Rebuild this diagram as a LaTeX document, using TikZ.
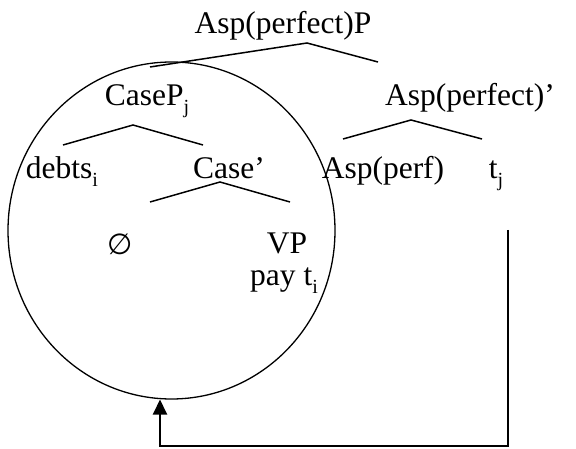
\documentclass[tikz,border=0pt]{standalone}
\usepackage{fontspec}
\setmainfont{Liberation Serif}
\newfontfamily\symfont{DejaVu Sans}
\usetikzlibrary{shapes.geometric,arrows.meta}
\newcommand{\sbx}[1]{\raisebox{-0.25em}{\fontsize{20}{20}\selectfont #1}}
\begin{document}
\begin{tikzpicture}[x=1pt,y=-1pt,
  lbl/.style={inner sep=0pt, anchor=base, font=\fontsize{31.5}{36}\selectfont},
  br/.style={line width=1.5pt},
  circ/.style={draw, ellipse, line width=1.3pt, inner sep=0pt},
  mv/.style={line width=2pt, -{Triangle[length=15pt,width=14pt]}}]
\useasboundingbox (0,0) rectangle (576,449);
% labels
\node[lbl] (aspP) at (283,34) {Asp(perfect)P};
\node[lbl] (caseP) at (147,106) {CaseP\sbx{j}};
\node[lbl] (aspbar) at (470,106) {Asp(perfect)’};
\node[lbl] (debts) at (62,179) {debts\sbx{i}};
\node[lbl] (casebar) at (229,179) {Case’};
\node[lbl] (asp) at (383,179) {Asp(perf)};
\node[lbl] (tj) at (496,179) {t\sbx{j}};
\node[inner sep=0pt, font=\symfont\fontsize{29}{32}\selectfont] (null) at (120,244) {∅};
\node[lbl] (vp) at (287,254) {VP};
\node[lbl] (pay) at (284,286) {pay t\sbx{i}};
% circle
\node[circ, minimum width=327pt, minimum height=337pt] (ring) at (171.5,230.5) {};
% branch coordinates
\coordinate (a1) at (307,43); \coordinate (a1l) at (150,67); \coordinate (a1r) at (378,62);
\coordinate (a2) at (133,125); \coordinate (a2l) at (63,145); \coordinate (a2r) at (203,145);
\coordinate (a3) at (411,120); \coordinate (a3l) at (343,139); \coordinate (a3r) at (482,139);
\coordinate (a4) at (220,182); \coordinate (a4l) at (150,202); \coordinate (a4r) at (290,202);
\draw[br] (a1l) -- (a1) -- (a1r);
\draw[br] (a2l) -- (a2) -- (a2r);
\draw[br] (a3l) -- (a3) -- (a3r);
\draw[br] (a4l) -- (a4) -- (a4r);
% movement arrow
\coordinate (mstart) at (508,230);
\coordinate (mcorner) at (508,446);
\coordinate (mend) at (160,399.5);
\draw[mv] (mstart) -- (mcorner) -| (mend);
\end{tikzpicture}
\end{document}
